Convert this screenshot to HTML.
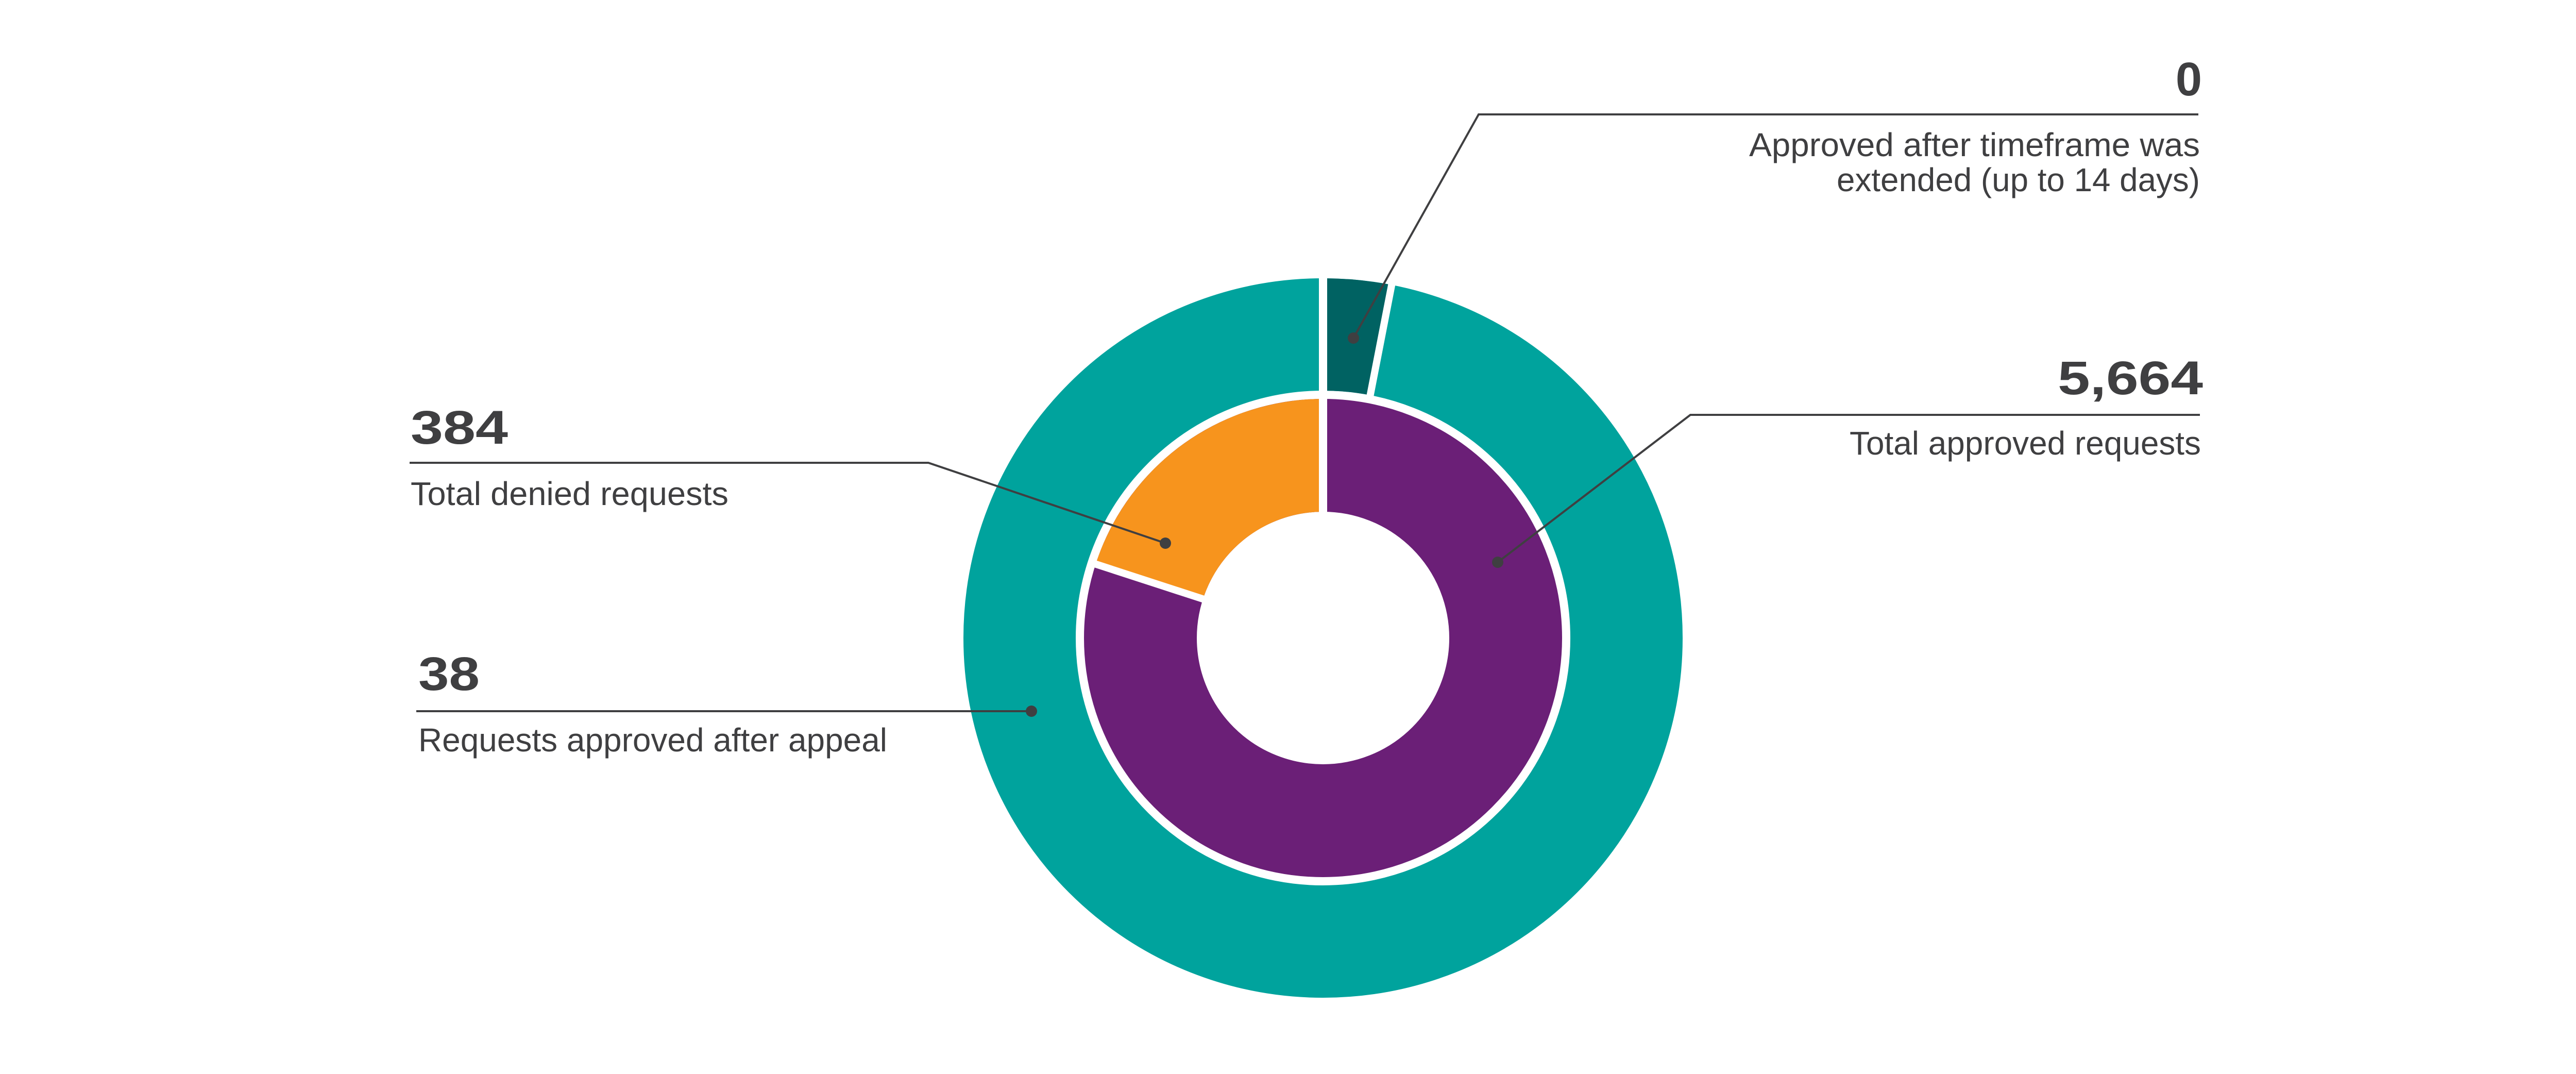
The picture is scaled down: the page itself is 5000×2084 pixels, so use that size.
<!DOCTYPE html>
<html>
<head>
<meta charset="utf-8">
<style>
html,body{margin:0;padding:0;background:#fff;}
svg{display:block;}
text{font-family:"Liberation Sans",sans-serif;fill:#3f3f41;}
.num{font-weight:bold;font-size:92px;}
.lbl{font-size:64px;}
</style>
</head>
<body>
<svg width="5000" height="2084" viewBox="0 0 5000 2084" xmlns="http://www.w3.org/2000/svg">
  <rect width="5000" height="2084" fill="#fff"/>
  <!-- outer ring -->
  <circle cx="2568" cy="1238" r="589" fill="none" stroke="#00a39d" stroke-width="218"/>
  <path d="M 2568 540 A 698 698 0 0 1 2701.2 552.8 L 2659.6 766.8 A 480 480 0 0 0 2568 758 Z" fill="#006262"/>
  <!-- inner ring -->
  <circle cx="2568" cy="1238" r="354.5" fill="none" stroke="#6b1f77" stroke-width="219"/>
  <path d="M 2126.7 1094.6 A 464 464 0 0 1 2568 774 L 2568 993 A 245 245 0 0 0 2335 1162.3 Z" fill="#f7941d"/>
  <!-- separators -->
  <line x1="2568" y1="1000" x2="2568" y2="520" stroke="#fff" stroke-width="16"/>
  <line x1="2657.7" y1="776.6" x2="2703.5" y2="541.0" stroke="#fff" stroke-width="14"/>
  <line x1="2344.5" y1="1165.4" x2="2116.3" y2="1091.2" stroke="#fff" stroke-width="14"/>

  <!-- leaders -->
  <g stroke="#3f3f41" stroke-width="4" fill="none">
    <polyline points="4267,222 2870,222 2627,656"/>
    <polyline points="4270,805 3281,805 2907,1091"/>
    <polyline points="795,898 1802,898 2262,1054"/>
    <polyline points="808,1380 2002,1380"/>
  </g>
  <g fill="#3f3f41">
    <circle cx="2627" cy="656" r="11"/>
    <circle cx="2907" cy="1091" r="11"/>
    <circle cx="2262" cy="1054" r="11"/>
    <circle cx="2002" cy="1380" r="11"/>
  </g>

  <!-- labels -->
  <text class="num" x="4274" y="185" text-anchor="end">0</text>
  <text class="lbl" x="4270" y="303" text-anchor="end" textLength="875" lengthAdjust="spacingAndGlyphs">Approved after timeframe was</text>
  <text class="lbl" x="4270" y="371" text-anchor="end" textLength="705" lengthAdjust="spacingAndGlyphs">extended (up to 14 days)</text>

  <text class="num" x="4276" y="765" text-anchor="end" textLength="282" lengthAdjust="spacingAndGlyphs">5,664</text>
  <text class="lbl" x="4272" y="882" text-anchor="end" textLength="682" lengthAdjust="spacingAndGlyphs">Total approved requests</text>

  <text class="num" x="797" y="861" textLength="189" lengthAdjust="spacingAndGlyphs">384</text>
  <text class="lbl" x="797" y="980" textLength="617" lengthAdjust="spacingAndGlyphs">Total denied requests</text>

  <text class="num" x="812" y="1339" textLength="119" lengthAdjust="spacingAndGlyphs">38</text>
  <text class="lbl" x="812" y="1458" textLength="910" lengthAdjust="spacingAndGlyphs">Requests approved after appeal</text>
</svg>
</body>
</html>
